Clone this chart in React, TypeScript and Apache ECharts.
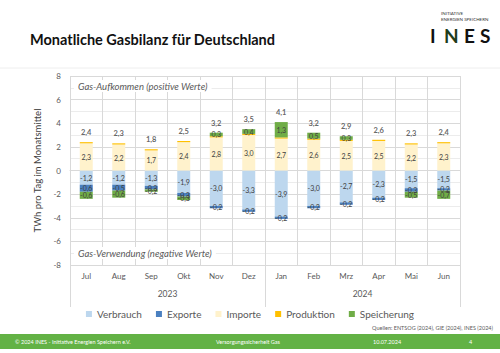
import React, { useEffect, useRef } from "react";
import * as echarts from "echarts";

const months = ["Jul", "Aug", "Sep", "Okt", "Nov", "Dez", "Jan", "Feb", "Mrz", "Apr", "Mai", "Jun"];
const years = ["2023", "2024"];
const verbrauch = [-1.2, -1.2, -1.3, -1.9, -3.0, -3.3, -3.9, -3.0, -2.7, -2.3, -1.5, -1.5];
const exporte = [-0.6, -0.5, -0.3, -0.3, -0.2, -0.2, -0.2, -0.2, -0.2, -0.2, -0.3, -0.2];
const importe = [2.3, 2.2, 1.7, 2.4, 2.8, 3.0, 2.7, 2.6, 2.5, 2.5, 2.2, 2.3];
const produktion = [0.1, 0.1, 0.1, 0.1, 0.1, 0.1, 0.1, 0.1, 0.1, 0.1, 0.1, 0.1];
const speicherung = [-0.6, -0.6, -0.2, -0.3, 0.3, 0.4, 1.3, 0.5, 0.3, null, -0.5, -0.7];
const totals = [2.4, 2.3, 1.8, 2.5, 3.2, 3.5, 4.1, 3.2, 2.9, 2.6, 2.3, 2.4];
const yTicks = { min: -8, max: 8, interval: 2 };

const FONT = "Lato, 'Open Sans', sans-serif";
const fmt = (v: any) => {
  const n = Array.isArray(v) ? v[1] : v;
  if (n == null || Math.abs(n) < 0.05) return "";
  return n.toFixed(1).replace(".", ",");
};

export default function App() {
  const ref = useRef<HTMLDivElement>(null);
  useEffect(() => {
    document.body.style.margin = "0";
    const chart = echarts.init(ref.current!, null, { renderer: "svg" });
    const segLabel = {
      show: true,
      fontSize: 7,
      color: "#404040",
      fontFamily: FONT,
      formatter: (p: any) => fmt(p.value),
    };
    const barCommon = { type: "bar", stack: "total", barWidth: "40%", xAxisIndex: 0 };
    chart.setOption({
      animation: false,
      backgroundColor: "#ffffff",
      textStyle: { fontFamily: FONT },
      grid: { left: 70, right: 40, top: 76, bottom: 88, containLabel: false },
      legend: {
        data: ["Verbrauch", "Exporte", "Importe", "Produktion", "Speicherung"],
        top: 304,
        left: "center",
        itemWidth: 6,
        itemHeight: 6,
        itemGap: 14,
        icon: "rect",
        textStyle: { fontSize: 10, color: "#595959", fontFamily: FONT },
      },
      xAxis: [
        {
          type: "category",
          data: months,
          position: "bottom",
          axisLine: { show: true, lineStyle: { color: "#d9d9d9" } },
          axisTick: { show: true, length: 20, lineStyle: { color: "#d9d9d9" } },
          splitLine: { show: true, lineStyle: { color: "#d9d9d9" } },
          axisLabel: { fontSize: 8, color: "#595959", margin: 7, fontFamily: FONT },
        },
        {
          type: "category",
          data: years,
          position: "bottom",
          axisLine: { show: false },
          axisTick: { show: true, length: 42, lineStyle: { color: "#d9d9d9" } },
          splitLine: { show: false },
          axisLabel: { fontSize: 8.5, color: "#595959", margin: 24, fontFamily: FONT },
        },
      ],
      yAxis: {
        type: "value",
        min: yTicks.min,
        max: yTicks.max,
        interval: yTicks.interval,
        name: "TWh pro Tag im Monatsmittel",
        nameLocation: "middle",
        nameGap: 20,
        nameTextStyle: { fontSize: 9.5, color: "#404040", fontFamily: FONT },
        axisLine: { show: false },
        axisTick: { show: false },
        axisLabel: { fontSize: 8, color: "#595959", margin: 9, fontFamily: FONT },
        splitLine: { show: true, lineStyle: { color: "#d9d9d9" } },
        minorTick: { show: false, splitNumber: 2 },
        minorSplitLine: { show: true, lineStyle: { color: "#ececec" } },
      },
      series: [
        { ...barCommon, name: "Verbrauch", data: verbrauch, itemStyle: { color: "#bdd7ee" }, label: segLabel },
        { ...barCommon, name: "Exporte", data: exporte, itemStyle: { color: "#4a80c0" }, label: segLabel },
        { ...barCommon, name: "Importe", data: importe, itemStyle: { color: "#fff2cc" }, label: segLabel },
        { ...barCommon, name: "Produktion", data: produktion, itemStyle: { color: "#ffc000" }, label: { show: false } },
        { ...barCommon, name: "Speicherung", data: speicherung, itemStyle: { color: "#70ad47" }, label: segLabel },
        {
          type: "scatter",
          name: "Summe",
          data: totals,
          xAxisIndex: 0,
          symbolSize: 1,
          itemStyle: { color: "rgba(0,0,0,0)" },
          label: {
            show: true,
            position: "top",
            distance: 5,
            fontSize: 7.5,
            fontWeight: "bold",
            color: "#404040",
            fontFamily: FONT,
            formatter: (p: any) => fmt(p.value),
          },
        },
      ],
      graphic: [
        { type: "line", shape: { x1: 0, y1: 68, x2: 500, y2: 68 }, style: { stroke: "#eeeeee", lineWidth: 1 } },
        {
          type: "text",
          left: 30,
          top: 32,
          style: { text: "Monatliche Gasbilanz für Deutschland", fontSize: 14.5, fontWeight: "bold", fill: "#111111", fontFamily: FONT },
        },
        { type: "text", left: 441, top: 11, style: { text: "INITIATIVE", fontSize: 4.5, fill: "#333333", fontFamily: FONT } },
        { type: "text", left: 441, top: 17, style: { text: "ENERGIEN SPEICHERN", fontSize: 4.5, fill: "#333333", fontFamily: FONT } },
        { type: "text", left: 430, top: 26, style: { text: "I", fontSize: 19, fontWeight: "bold", fill: "#111111", fontFamily: FONT } },
        { type: "text", left: 444, top: 26, style: { text: "N", fontSize: 19, fontWeight: "bold", fill: "#1f3d1a", fontFamily: FONT } },
        { type: "text", left: 464, top: 26, style: { text: "E", fontSize: 19, fontWeight: "bold", fill: "#111111", fontFamily: FONT } },
        { type: "text", left: 480, top: 26, style: { text: "S", fontSize: 19, fontWeight: "bold", fill: "#111111", fontFamily: FONT } },
        {
          type: "text",
          left: 74,
          top: 80,
          z: 10,
          style: {
            text: "Gas-Aufkommen (positive Werte)",
            fontSize: 9.5,
            fontStyle: "italic",
            fill: "#595959",
            fontFamily: FONT,
            backgroundColor: "#ffffff",
            padding: [1, 4],
          },
        },
        {
          type: "text",
          left: 74,
          top: 247,
          z: 10,
          style: {
            text: "Gas-Verwendung (negative Werte)",
            fontSize: 9.5,
            fontStyle: "italic",
            fill: "#595959",
            fontFamily: FONT,
            backgroundColor: "#ffffff",
            padding: [1, 4],
          },
        },
        {
          type: "text",
          right: 7,
          top: 325,
          style: { text: "Quellen: ENTSOG (2024), GIE (2024), INES (2024)", fontSize: 5.5, fill: "#595959", fontFamily: FONT },
        },
        { type: "rect", shape: { x: 0, y: 334, width: 500, height: 15 }, style: { fill: "#63b245" } },
        { type: "text", left: 15, top: 338.5, style: { text: "© 2024 INES - Initiative Energien Speichern e.V.", fontSize: 5.5, fill: "#ffffff", fontFamily: FONT } },
        { type: "text", left: 216, top: 338.5, style: { text: "Versorgungssicherheit Gas", fontSize: 5.5, fill: "#ffffff", fontFamily: FONT } },
        { type: "text", left: 373, top: 338.5, style: { text: "10.07.2024", fontSize: 5.5, fill: "#ffffff", fontFamily: FONT } },
        { type: "text", left: 469, top: 338.5, style: { text: "4", fontSize: 5.5, fill: "#ffffff", fontFamily: FONT } },
      ],
    });
    return () => chart.dispose();
  }, []);
  return <div ref={ref} style={{ position: "fixed", left: 0, top: 0, width: 500, height: 353 }} />;
}
